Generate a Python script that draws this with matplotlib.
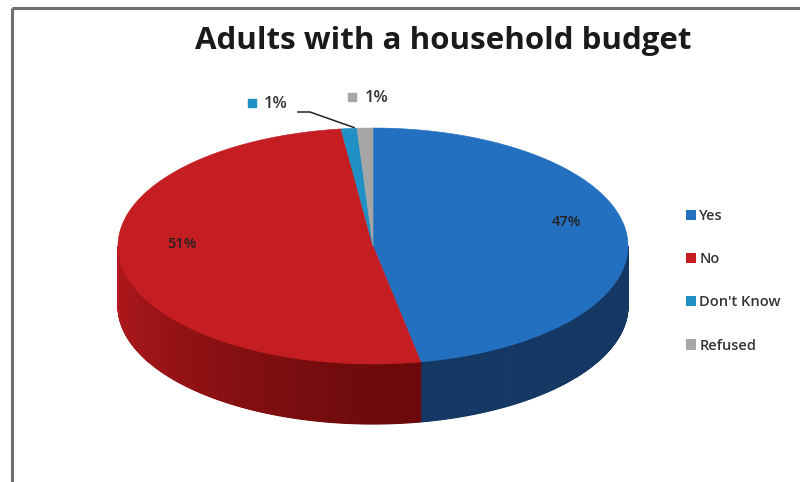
import numpy as np
import matplotlib
matplotlib.use('Agg')
import matplotlib.pyplot as plt
from matplotlib.patches import Polygon, Patch

plt.rcParams['font.family'] = ['Open Sans', 'DejaVu Sans']

# share of adults, clockwise from 12 o'clock
labels = ['Yes', 'No', "Don't Know", 'Refused']
values = [47, 51, 1, 1]
top_colors = ['#2370c0', '#c41d22', '#1f8fc4', '#a6a6a6']
side_light = ['#1c4a82', '#b3191d', '#176a92', '#7d7d7d']
side_dark = ['#143764', '#6c0a0b', '#125574', '#666666']

# pie geometry in pixel space
cx, cy, rx, ry, depth = 373, 246, 255, 118, 60

fig = plt.figure(figsize=(8, 4.82), dpi=100)
ax = fig.add_axes([0, 0, 1, 1])
ax.set_xlim(0, 800)
ax.set_ylim(482, 0)
ax.axis('off')

def pt(theta_deg, r=1.0):
    t = np.radians(theta_deg)
    return cx + rx * r * np.sin(t), cy - ry * r * np.cos(t)

def mix(c1, c2, f):
    a = np.array(matplotlib.colors.to_rgb(c1))
    b = np.array(matplotlib.colors.to_rgb(c2))
    return a + (b - a) * f

bounds = np.concatenate([[0], np.cumsum(values)]) / np.sum(values) * 360

# outer wall, front half only (90..270 deg), drawn as thin shaded strips
for i in range(len(values)):
    a0, a1 = max(bounds[i], 90), min(bounds[i + 1], 270)
    if a1 <= a0:
        continue
    edges = np.linspace(a0, a1, max(int((a1 - a0) * 2), 2))
    for s, e in zip(edges[:-1], edges[1:]):
        m = 0.5 * (s + e)
        # lighter toward the left end of the wall
        if m > 180:
            col = mix(side_light[i], side_dark[i], np.clip((270 - m) / 90, 0, 1))
        else:
            col = matplotlib.colors.to_rgb(side_dark[i])
        th = np.linspace(s, e, 4)
        xs, ys = pt(th)
        poly = np.column_stack([np.concatenate([xs, xs[::-1]]),
                                np.concatenate([ys, ys[::-1] + depth])])
        ax.add_patch(Polygon(poly, closed=True, fc=col, ec=col, lw=0.8))

# top face
for i in range(len(values)):
    th = np.linspace(bounds[i], bounds[i + 1], 200)
    xs, ys = pt(th)
    poly = np.column_stack([np.concatenate([[cx], xs]), np.concatenate([[cy], ys])])
    ax.add_patch(Polygon(poly, closed=True, fc=top_colors[i], ec=top_colors[i], lw=0.4))

# percentage labels on the two large slices
for i in range(2):
    mid = 0.5 * (bounds[i] + bounds[i + 1])
    lx, ly = pt(mid, 0.76)
    ax.text(lx, ly - 16, f'{values[i]}%', ha='center', va='center',
            fontsize=10.5, fontweight='semibold', color='#222222')

# small slices labelled above the pie
mid_dk = 0.5 * (bounds[2] + bounds[3])
ex, ey = pt(mid_dk)
ax.plot([298, 310, ex + 5], [112, 112, ey - 1], color='#222222', lw=1.1)
ax.scatter([252], [103], marker='s', s=30, color=top_colors[2])
ax.text(264, 104, f'{values[2]}%', ha='left', va='center', fontsize=12,
        fontweight='semibold', color='#333333')
ax.scatter([352], [97], marker='s', s=30, color=top_colors[3])
ax.text(365, 98, f'{values[3]}%', ha='left', va='center', fontsize=12,
        fontweight='semibold', color='#333333')

# title
ax.text(443, 41, 'Adults with a household budget', ha='center', va='center',
        fontsize=22.5, fontweight='bold', color='#1a1a1a')

# legend
handles = [Patch(facecolor=c, edgecolor='none') for c in top_colors]
ax.legend(handles, labels, loc='upper left', bbox_to_anchor=(673 / 800, 1 - 196 / 482),
          frameon=False, handlelength=0.7, handleheight=0.7,
          handletextpad=0.2, labelspacing=2.0, labelcolor='#333333',
          prop={'weight': 'semibold', 'size': 10.5})

# frame lines along top and left
ax.plot([12, 800], [8, 8], color='#6e6e6e', lw=2.2, solid_capstyle='butt')
ax.plot([12, 12], [8, 482], color='#6e6e6e', lw=2.2, solid_capstyle='butt')

fig.savefig('out.png', dpi=100)
